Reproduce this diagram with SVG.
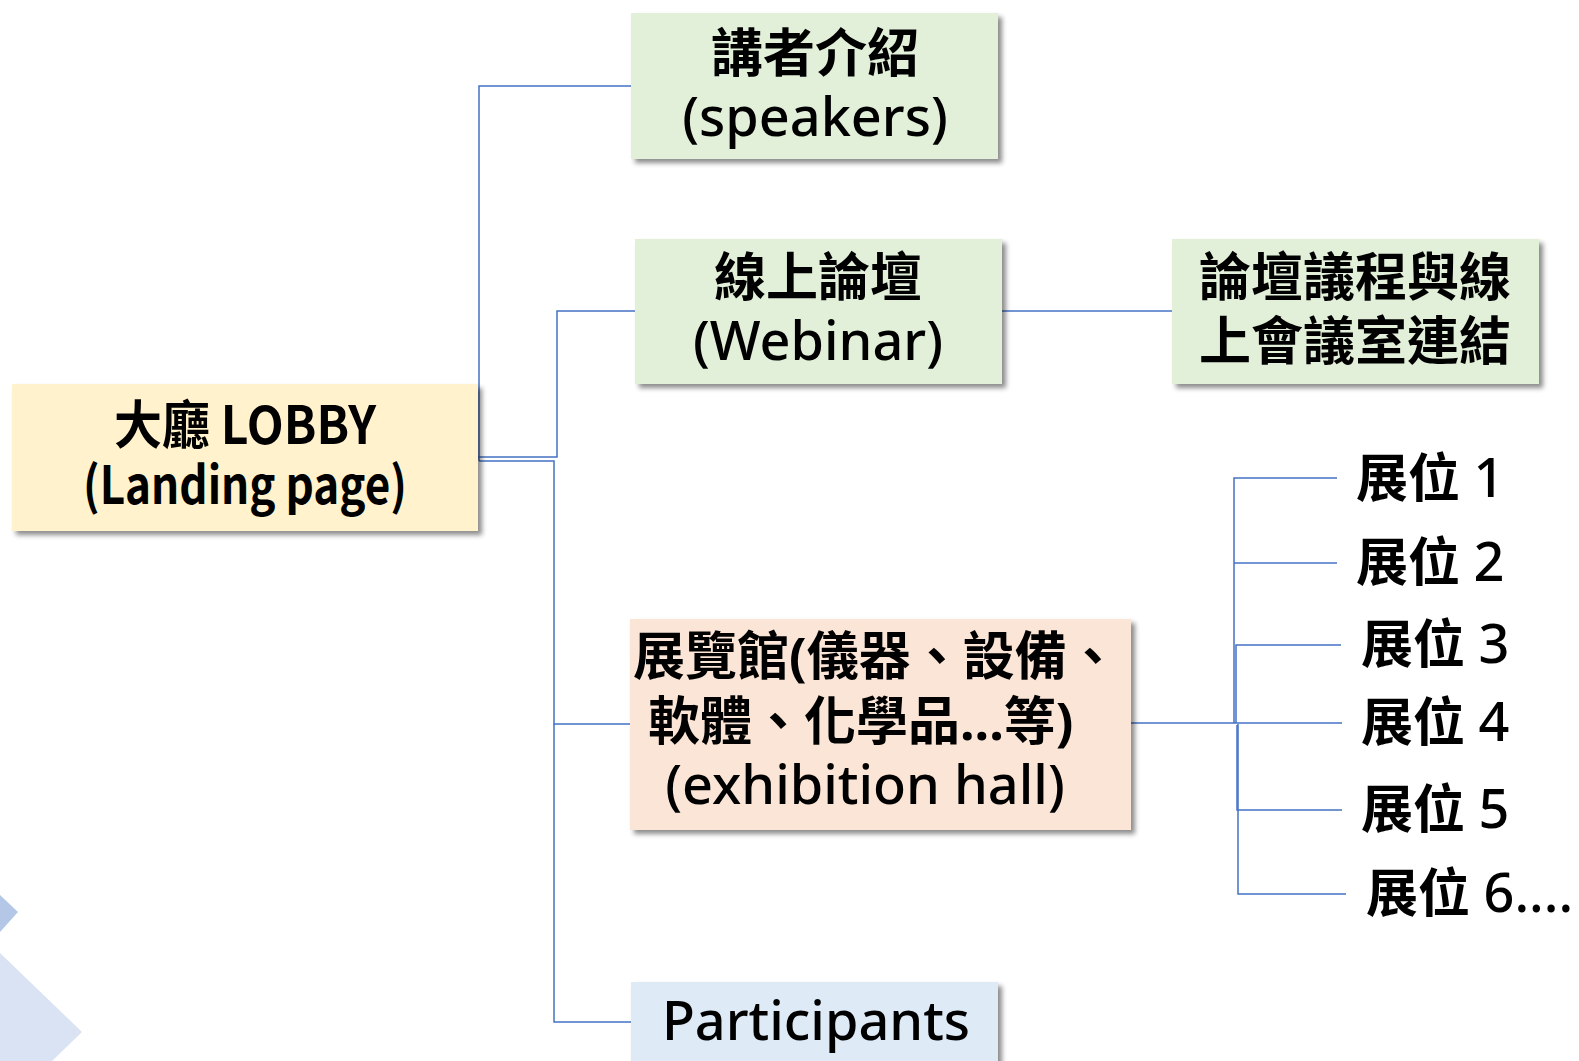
<svg xmlns="http://www.w3.org/2000/svg" width="1579" height="1061" viewBox="0 0 1579 1061">
<style>
.t{font-family:"Noto Sans","Noto Sans CJK TC",sans-serif;font-size:52px;fill:#000;}
.j{font-family:"Noto Sans CJK TC",sans-serif;}
.b{font-weight:700;}
.m{font-weight:500;font-size:54px;}
.c{text-anchor:middle;}
.n{font-weight:500;font-size:54px;}
.ln{fill:none;stroke:#4472C4;stroke-width:1.5;}
</style>
<defs>
<filter id="sh" x="-10%" y="-10%" width="130%" height="140%">
<feDropShadow dx="4" dy="4" stdDeviation="2.5" flood-color="#000" flood-opacity="0.45"/>
</filter>
</defs>
<rect width="1579" height="1061" fill="#fff"/>
<g id="decor">
<polygon points="0,895 18,912 0,932" fill="#B4C7E7"/>
<polygon points="0,953 82,1032 52,1061 0,1061" fill="#DAE3F3"/>
</g>
<g id="connectors" class="ln">
<path d="M479,461 V86 H631"/>
<path d="M477,457 H557 V311 H635"/>
<path d="M479,461 H554 V724 H630"/>
<path d="M554,724 V1022 H631"/>
<path d="M1002,311 H1172"/>
<path d="M1131,723 H1236"/>
<path d="M1234,723 V478 H1337"/>
<path d="M1234,563 H1337"/>
<path d="M1236,723 V645 H1341"/>
<path d="M1236,723 H1342"/>
<path d="M1237,725 V810 H1342"/>
<path d="M1238,724 V894 H1346"/>
</g>
<g id="lobby">
<rect x="12" y="384" width="466" height="147" fill="#FFF2CC" filter="url(#sh)"/>
<text class="t j b c" x="245" y="444" font-size="48" textLength="262" lengthAdjust="spacingAndGlyphs">大廳 LOBBY</text>
<text class="t j b c" x="245" y="504" font-size="47" textLength="324" lengthAdjust="spacingAndGlyphs">(Landing page)</text>
</g>
<g id="speakers">
<rect x="631" y="13" width="367" height="146" fill="#E2F0D9" filter="url(#sh)"/>
<text class="t b c" x="815" y="72">講者介紹</text>
<text class="t m c" x="815" y="136" font-size="52">(speakers)</text>
</g>
<g id="webinar">
<rect x="635" y="239" width="367" height="145" fill="#E2F0D9" filter="url(#sh)"/>
<text class="t b c" x="818" y="296">線上論壇</text>
<text class="t m c" x="818" y="360">(Webinar)</text>
</g>
<g id="agenda">
<rect x="1172" y="239" width="367" height="145" fill="#E2F0D9" filter="url(#sh)"/>
<text class="t b c" x="1355" y="296">論壇議程與線</text>
<text class="t b c" x="1355" y="360">上會議室連結</text>
</g>
<g id="exhibition">
<rect x="630" y="619" width="501" height="211" fill="#FBE5D6" filter="url(#sh)"/>
<text class="t b" x="633" y="675">展覽館(儀器、設備、</text>
<text class="t b" x="648" y="740">軟體、化學品...等)</text>
<text class="t m c" x="865" y="804" font-size="55">(exhibition hall)</text>
</g>
<g id="participants">
<rect x="631" y="982" width="367" height="90" fill="#DEEBF7" filter="url(#sh)"/>
<text class="t m c" x="816" y="1040" font-size="52">Participants</text>
</g>
<g id="booths">
<text class="t b" x="1356" y="497">展位 <tspan class="n">1</tspan></text>
<text class="t b" x="1356" y="581">展位 <tspan class="n">2</tspan></text>
<text class="t b" x="1361" y="663">展位 <tspan class="n">3</tspan></text>
<text class="t b" x="1361" y="741">展位 <tspan class="n">4</tspan></text>
<text class="t b" x="1361" y="828">展位 <tspan class="n">5</tspan></text>
<text class="t b" x="1366" y="912">展位 <tspan class="n">6....</tspan></text>
</g>
</svg>
